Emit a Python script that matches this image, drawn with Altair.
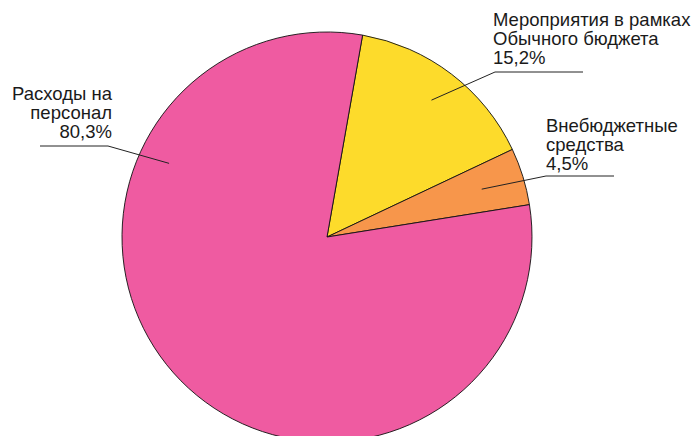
import math
import altair as alt
import pandas as pd

# ---- data ----
categories = ["Мероприятия в рамках\nОбычного бюджета", "Внебюджетные\nсредства", "Расходы на\nперсонал"]
shares = [15.2, 4.5, 80.3]
share_labels = ["15,2%", "4,5%", "80,3%"]
colors = ["#FDDB2B", "#F7964B", "#EF5BA1"]

# ---- layout ----
W, H = 683, 428
CX, CY, R = 319, 229, 205
START_DEG = 10.0
label_side = ["left", "left", "right"]          # text alignment
anchor_frac = [0.84, 0.79, 0.85]                # leader anchor radius (fraction of R)
anchor_override = [None, None, 295.0]           # angle override (deg) for anchor
elbow = [(487, 64), (538, 168), (100, 138)]
line_end_x = [575, 606, 32]
text_pos = [(485, 18), (538, 123.5), (104, 91.5)]

total = sum(shares)
rows, lines, texts = [], [], []
cum = START_DEG
for i, (c, s, sl) in enumerate(zip(categories, shares, share_labels)):
    span = s / total * 360.0
    mid = cum + span / 2
    cum += span
    ang = anchor_override[i] if anchor_override[i] is not None else mid
    r = anchor_frac[i] * R
    ax = CX + r * math.sin(math.radians(ang))
    ay = CY - r * math.cos(math.radians(ang))
    ex, ey = elbow[i]
    for k, (px, py) in enumerate([(ax, ay), (ex, ey), (line_end_x[i], ey)]):
        lines.append({"id": i, "k": k, "x": px, "y": py})
    texts.append({"id": i, "side": label_side[i], "x": text_pos[i][0], "y": text_pos[i][1],
                  "label": c + "\n" + sl})
    rows.append({"cat": c, "share": s, "idx": i})

df = pd.DataFrame(rows)
ldf = pd.DataFrame(lines)
tdf = pd.DataFrame(texts)

a0 = math.radians(START_DEG)
pie = alt.Chart(df).mark_arc(radius=R, stroke="#111111", strokeWidth=0.9).encode(
    theta=alt.Theta("share:Q", stack=True, scale=alt.Scale(range=[a0, a0 + 2 * math.pi])),
    color=alt.Color("cat:N", scale=alt.Scale(domain=categories, range=colors), legend=None),
    order=alt.Order("idx:Q"),
    x=alt.value(CX),
    y=alt.value(CY),
)

xs = alt.Scale(domain=[0, W], range=[0, W])
ys = alt.Scale(domain=[0, H], range=[0, H])

leaders = alt.Chart(ldf).mark_line(color="#222222", strokeWidth=1).encode(
    x=alt.X("x:Q", scale=xs, axis=None),
    y=alt.Y("y:Q", scale=ys, axis=None),
    detail="id:N",
    order="k:Q",
)

font = "Liberation Sans"
FS, LH = 18.5, 19
txt_left = alt.Chart(tdf).transform_filter(alt.datum.side == "left").mark_text(
    align="left", baseline="alphabetic", lineBreak="\n", lineHeight=LH,
    font=font, fontSize=FS, color="#1a1a1a"
).encode(x=alt.X("x:Q", scale=xs, axis=None), y=alt.Y("y:Q", scale=ys, axis=None), text="label:N")

txt_right = alt.Chart(tdf).transform_filter(alt.datum.side == "right").mark_text(
    align="right", baseline="alphabetic", lineBreak="\n", lineHeight=LH,
    font=font, fontSize=FS, color="#1a1a1a"
).encode(x=alt.X("x:Q", scale=xs, axis=None), y=alt.Y("y:Q", scale=ys, axis=None), text="label:N")

chart = alt.layer(pie, leaders, txt_left, txt_right).properties(
    width=W, height=H, padding=0, autosize=alt.AutoSizeParams(type="none")
).configure_view(stroke=None).resolve_scale(color="independent")

chart.save("out.html", embed_options={"renderer": "svg", "actions": False})
